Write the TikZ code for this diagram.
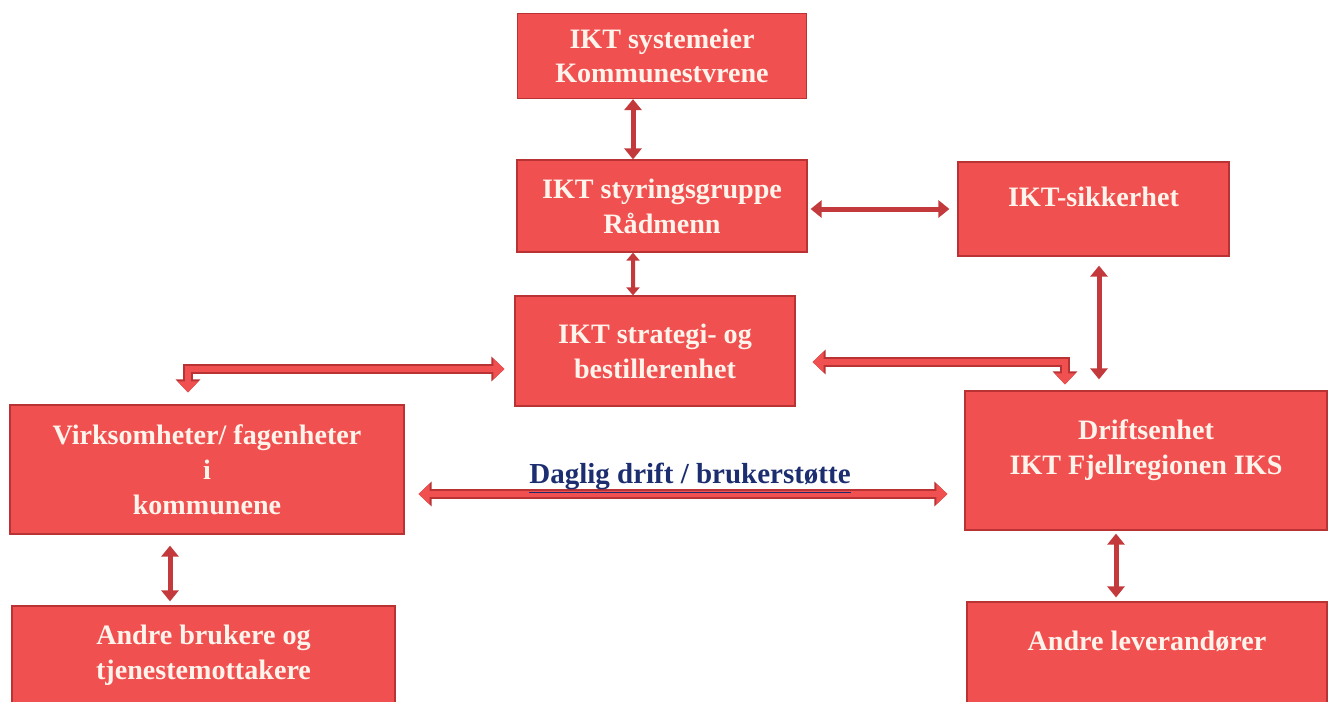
\documentclass[tikz,border=0pt]{standalone}
\usepackage{fontspec}
\setmainfont{Liberation Serif}
\usetikzlibrary{arrows.meta}
\definecolor{boxred}{RGB}{240,80,80}
\definecolor{edgered}{RGB}{185,50,52}
\definecolor{arrowred}{RGB}{196,58,60}
\definecolor{lighttext}{RGB}{255,244,236}
\definecolor{navytext}{RGB}{28,46,112}

\begin{document}
\begin{tikzpicture}[x=0.02cm,y=-0.02cm]
				\tikzstyle{unit}=[rectangle, draw=edgered, line width=0.7pt, fill=boxred, text=lighttext, font=\fontsize{16}{19.8}\selectfont\bfseries, align=center, inner sep=0pt]
				\tikzstyle{link}=[draw=arrowred, line width=0.1cm, {Triangle[length=0.22cm,width=0.34cm]}-{Triangle[length=0.22cm,width=0.34cm]}]
				\tikzstyle{thinlink}=[draw=arrowred, line width=0.08cm, {Triangle[length=0.16cm,width=0.26cm]}-{Triangle[length=0.16cm,width=0.26cm]}]
				\tikzstyle{flow}=[draw=boxred, line width=0.13cm, {Triangle[length=0.22cm,width=0.4cm]}-{Triangle[length=0.22cm,width=0.4cm]}, preaction={draw=edgered, line width=0.2cm, {Triangle[length=0.26cm,width=0.48cm]}-{Triangle[length=0.26cm,width=0.48cm]}}]
				\path[use as bounding box, clip] (0,0) rectangle (1328,701);
				\node[unit, minimum width=5.78cm, minimum height=1.7cm] (eier) at (662,56) {IKT systemeier\\Kommunestvrene};
				\node[unit, minimum width=5.8cm, minimum height=1.84cm] (styring) at (662,206) {IKT styringsgruppe\\Rådmenn};
				\node[unit, minimum width=5.6cm, minimum height=2.2cm] (strategi) at (655,351) {IKT strategi- og\\bestillerenhet};
				\node[unit, minimum width=5.42cm, minimum height=1.88cm, text depth=0.48cm] (sikkerhet) at (1093.5,209) {IKT-sikkerhet};
				\node[unit, minimum width=7.88cm, minimum height=2.58cm] (virk) at (207,469.5) {Virksomheter/ fagenheter\\i\\kommunene};
				\node[unit, minimum width=7.66cm, minimum height=1.96cm] (brukere) at (203.5,655) {Andre brukere og\\tjenestemottakere};
				\node[unit, minimum width=7.24cm, minimum height=2.78cm, text depth=0.53cm] (drift) at (1146,460.5) {Driftsenhet\\IKT Fjellregionen IKS};
				\node[unit, minimum width=7.2cm, minimum height=2.16cm, text depth=0.6cm] (leverandor) at (1147,656) {Andre leverandører};
				\draw[link] ([xshift=-0.58cm]eier.south) -- ([xshift=-0.58cm]styring.north);
				\draw[thinlink] ([xshift=-0.58cm]styring.south) -- ([xshift=-0.44cm]strategi.north);
				\draw[link, shorten <=0.06cm, shorten >=0.16cm] ([yshift=-0.06cm]styring.east) -- ([yshift=-0.06cm]styring.east -| sikkerhet.west);
				\draw[link, shorten <=0.18cm, shorten >=0.22cm] ([xshift=0.11cm]sikkerhet.south) -- ([xshift=0.11cm]sikkerhet.south |- drift.north);
				\draw[link, shorten <=0.22cm, shorten >=0.08cm] ([xshift=-0.74cm]virk.south) -- ([xshift=-0.74cm]virk.south |- brukere.north);
				\draw[link, shorten <=0.06cm, shorten >=0.08cm] ([xshift=-0.6cm]drift.south) -- ([xshift=-0.6cm]drift.south |- leverandor.north);
				\coordinate (kneeL) at (188,369);
				\coordinate (kneeR) at (1065,362);
				\coordinate (daglig) at (683,494);
				\draw[flow] ([xshift=-0.2cm]kneeL -| strategi.west) -- (kneeL) -- ([yshift=0.24cm]kneeL |- virk.north);
				\draw[flow] ([xshift=0.34cm]kneeR -| strategi.east) -- (kneeR) -- ([yshift=0.12cm]kneeR |- drift.north);
				\draw[flow] ([xshift=0.28cm]daglig -| virk.east) -- ([xshift=-0.34cm]daglig -| drift.west);
				\node[font=\fontsize{16.5}{19.8}\selectfont\bfseries, text=navytext] (dagliglabel) at (690,478) {\underline{Daglig drift / brukerstøtte}};
				\end{tikzpicture}
\end{document}
